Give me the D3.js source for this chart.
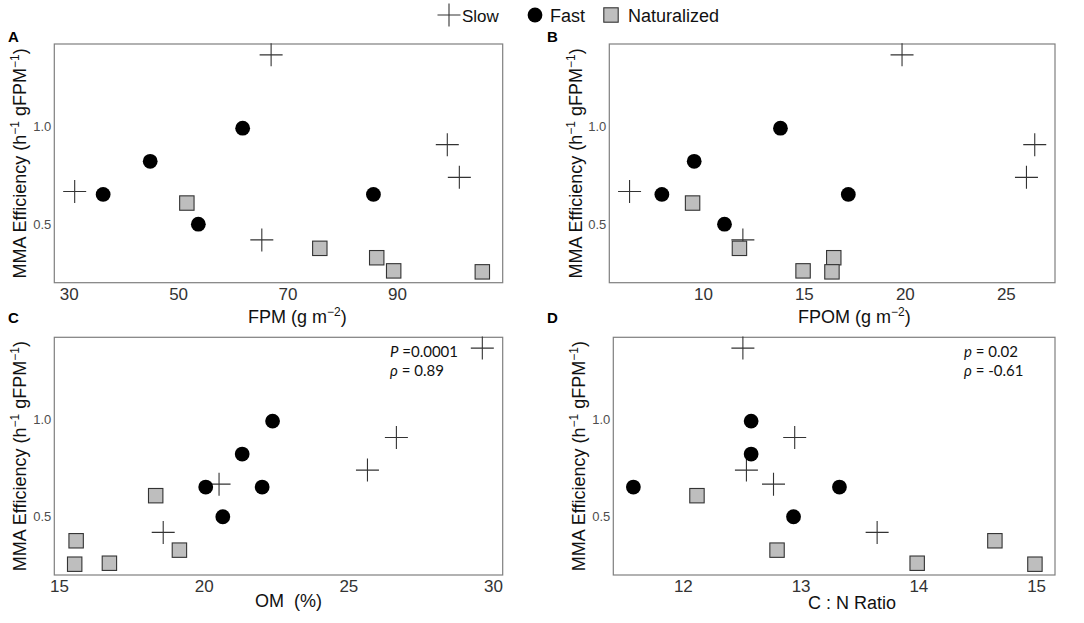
<!DOCTYPE html>
<html lang="en">
<head>
    <meta charset="UTF-8">
    <title>MMA efficiency</title>
    <script src="https://d3js.org/d3.v7.min.js"></script>
    <style>
        body {margin: 0; background: white;}
        text {font-family: "Liberation Sans", Arial, sans-serif;}
        .note {font-family: Lato, "Open Sans", sans-serif; font-size: 15px; fill: #111;}
    </style>
</head>
<body>
<script>
    const width = 1084;
    const height = 623;

    // MMA efficiency for each site, one array per group
    const groups  = ["Slow", "Fast", "Naturalized"];
    const effSlow = [0.667, 1.364, 0.42, 0.906, 0.739];
    const effFast = [0.652, 0.821, 0.99, 0.50, 0.652];
    const effNat  = [0.608, 0.377, 0.329, 0.262, 0.257];

    // predictors, same site order as above
    const fpmSlow  = [31.1, 67.0, 65.3, 99.2, 101.4];
    const fpmFast  = [36.3, 44.9, 61.8, 53.7, 85.7];
    const fpmNat   = [51.6, 75.9, 86.3, 89.4, 105.6];

    const fpomSlow = [6.37, 19.86, 11.98, 26.43, 26.02];
    const fpomFast = [7.97, 9.57, 13.84, 11.07, 17.2];
    const fpomNat  = [9.49, 11.81, 16.48, 14.96, 16.39];

    const omSlow   = [20.53, 29.63, 18.6, 26.66, 25.66];
    const omFast   = [20.07, 21.33, 22.38, 20.66, 22.02];
    const omNat    = [18.34, 15.59, 19.16, 16.74, 15.54];

    const cnSlow   = [12.77, 12.51, 13.65, 12.95, 12.54];
    const cnFast   = [11.58, 12.58, 12.58, 12.94, 13.33];
    const cnNat    = [12.12, 14.65, 12.8, 13.99, 14.99];

    const ticksFPM  = [30, 50, 70, 90];
    const ticksFPOM = [10, 15, 20, 25];
    const ticksOM   = [15, 20, 25, 30];
    const ticksCN   = [12, 13, 14, 15];
    const ticksEff  = [0.5, 1.0];

    const svg = d3.select("body").append("svg")
            .attr("width", width).attr("height", height);

    // ggplot style 5% padding
    function padded(values) {
        const [lo, hi] = d3.extent(values);
        const p = (hi - lo) * 0.05;
        return [lo - p, hi + p];
    }

    const effAll = effSlow.concat(effFast, effNat);

    const panels = [
        {tag: "A", tagX: 8, tagY: 42, box: [54.3, 44, 502.7, 282.7], xs: [fpmSlow, fpmFast, fpmNat], ticks: ticksFPM,
         title: ["FPM (g m", "−2", ")"], titleX: 248, titleY: 323, yTitleX: 26},
        {tag: "B", tagX: 547, tagY: 42, box: [609.3, 44, 1055, 282.7], xs: [fpomSlow, fpomFast, fpomNat], ticks: ticksFPOM,
         title: ["FPOM (g m", "−2", ")"], titleX: 798, titleY: 323, yTitleX: 582},
        {tag: "C", tagX: 8, tagY: 323, box: [54.3, 337.3, 502.7, 575], xs: [omSlow, omFast, omNat], ticks: ticksOM,
         title: ["OM  (%)"], titleX: 255, titleY: 607, yTitleX: 26,
         note: [["P", " =0.0001"], ["ρ", " = 0.89"]], noteX: 390},
        {tag: "D", tagX: 547, tagY: 323, box: [613.3, 337.3, 1055, 575], xs: [cnSlow, cnFast, cnNat], ticks: ticksCN,
         title: ["C : N Ratio"], titleX: 808, titleY: 609, yTitleX: 585,
         note: [["p", " = 0.02"], ["ρ", " = -0.61"]], noteX: 964}
    ];

    const effs = [effSlow, effFast, effNat];

    function plusPath(r) {
        return `M${-r},0H${r}M0,${-r}V${r}`;
    }

    function drawMark(g, group, x, y) {
        if (group === "Slow") {
            g.append("path").attr("d", plusPath(11.5))
                    .attr("transform", `translate(${x},${y})`)
                    .style("fill", "none").style("stroke", "#333").style("stroke-width", 1.1);
        } else if (group === "Fast") {
            g.append("circle").attr("cx", x).attr("cy", y).attr("r", 7.4)
                    .style("fill", "black");
        } else {
            g.append("rect").attr("x", x - 7.2).attr("y", y - 7.2)
                    .attr("width", 14.4).attr("height", 14.4)
                    .style("fill", "#bebebe").style("stroke", "#333").style("stroke-width", 1.1);
        }
    }

    panels.forEach(p => {
        const [x0, y0, x1, y1] = p.box;
        const allX = p.xs[0].concat(p.xs[1], p.xs[2]);
        const x = d3.scaleLinear().domain(padded(allX)).range([x0, x1]);
        const y = d3.scaleLinear().domain(padded(effAll)).range([y1, y0]);

        const g = svg.append("g").attr("class", "panel");

        g.append("rect").attr("x", x0).attr("y", y0)
                .attr("width", x1 - x0).attr("height", y1 - y0)
                .style("fill", "white").style("stroke", "#7f7f7f").style("stroke-width", 1.2);

        // axes
        const xa = g.append("g").attr("transform", `translate(0,${y1})`)
                .call(d3.axisBottom(x).tickValues(p.ticks).tickFormat(d3.format("d"))
                        .tickSize(0).tickPadding(3));
        xa.select(".domain").remove();
        xa.selectAll("text").attr("dy", "0.82em")
                .style("font-size", "17px").style("fill", "#333")
                .style("font-family", "Liberation Sans, Arial, sans-serif");

        const ya = g.append("g").attr("transform", `translate(${x0},0)`)
                .call(d3.axisLeft(y).tickValues(ticksEff).tickFormat(d3.format(".1f")).tickSize(0).tickPadding(3));
        ya.select(".domain").remove();
        ya.selectAll("text")
                .style("font-size", "13px").style("fill", "#4d4d4d")
                .style("font-family", "Liberation Sans, Arial, sans-serif");

        // marks
        groups.forEach((grp, gi) => {
            p.xs[gi].forEach((v, i) => drawMark(g, grp, x(v), y(effs[gi][i])));
        });

        // x title
        const xt = g.append("text").attr("x", p.titleX).attr("y", p.titleY)
                .style("font-size", "18px").style("fill", "#111").style("white-space", "pre");
        xt.append("tspan").text(p.title[0]);
        if (p.title.length > 1) {
            xt.append("tspan").attr("dy", -7).style("font-size", "12px").text(p.title[1]);
            xt.append("tspan").attr("dy", 7).text(p.title[2]);
        }

        // y title
        const cy = (y0 + y1) / 2;
        const yt = g.append("text")
                .attr("transform", `translate(${p.yTitleX},${cy}) rotate(-90)`)
                .attr("text-anchor", "middle")
                .style("font-size", "18px").style("fill", "#111");
        yt.append("tspan").text("MMA Efficiency (h");
        yt.append("tspan").attr("dy", -7).style("font-size", "12px").text("−1");
        yt.append("tspan").attr("dy", 7).text(" gFPM");
        yt.append("tspan").attr("dy", -7).style("font-size", "12px").text("−1");
        yt.append("tspan").attr("dy", 7).text(")");

        // panel tag
        g.append("text").attr("x", p.tagX).attr("y", p.tagY)
                .style("font-size", "15px").style("font-weight", "bold").text(p.tag);

        if (p.note) {
            p.note.forEach((line, i) => {
                const t = g.append("text").attr("class", "note")
                        .attr("x", p.noteX).attr("y", y0 + 20 + i * 19);
                t.append("tspan").style("font-style", "italic").text(line[0]);
                t.append("tspan").text(line[1]);
            });
        }
    });

    // legend
    const legend = svg.append("g").attr("class", "legend");
    const legendX = [449, 535, 611];
    const labelX  = [462, 550, 628];
    groups.forEach((grp, i) => {
        drawMark(legend, grp, legendX[i], 15);
        legend.append("text").attr("x", labelX[i]).attr("y", 22)
                .style("font-size", grp === "Slow" ? "17px" : "18px").style("fill", "#111").text(grp);
    });
</script>
</body>
</html>
